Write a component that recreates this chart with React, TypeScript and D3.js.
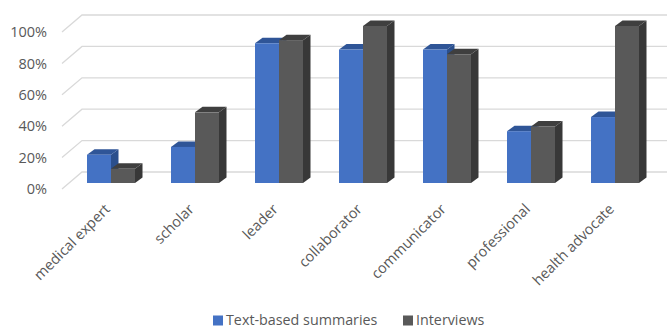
import React from "react";
import * as d3 from "d3";

const categories = ["medical expert", "scholar", "leader", "collaborator", "communicator", "professional", "health advocate"];
const seriesNames = ["Text-based summaries", "Interviews"];
const textBased = [0.18, 0.23, 0.89, 0.85, 0.85, 0.33, 0.42];
const interviews = [0.09, 0.45, 0.91, 1.0, 0.82, 0.36, 1.0];
const yTicks = [0, 0.2, 0.4, 0.6, 0.8, 1.0];

const W = 667;
const H = 329;
const FONT = "'Open Sans', sans-serif";
const colors = [
  { front: "#4472C4", top: "#2F5597", side: "#2B4F8C" },
  { front: "#595959", top: "#3F3F3F", side: "#383838" },
];

export default function App() {
  // front plane
  const x = d3.scaleBand<string>().domain(categories).range([62, 650]).paddingInner(0).paddingOuter(0);
  const yFront = d3.scaleLinear().domain([0, 1]).range([189, 32]);
  const wall = { dx: 20, dy: -17 };
  const barPlane = { dx: 7, dy: -6 };
  const barDepth = { dx: 7.5, dy: -5.5 };
  const inner = d3.scaleBand<number>().domain([0, 1]).range([0, x.bandwidth()]).paddingInner(0).paddingOuter(0.75);
  const series = [textBased, interviews];
  const fmt = d3.format(".0%");

  const bars: React.ReactNode[] = [];
  categories.forEach((c, i) => {
    series.forEach((s, k) => {
      const v = s[i];
      const x0 = (x(c) as number) + (inner(k) as number) + barPlane.dx;
      const w = inner.bandwidth();
      const yb = yFront(0) + barPlane.dy;
      const yt = yFront(v) + barPlane.dy;
      const col = colors[k];
      const ddx = barDepth.dx;
      const ddy = barDepth.dy;
      bars.push(
        <g key={`${c}-${k}`}>
          <polygon
            points={`${x0 + w},${yt} ${x0 + w + ddx},${yt + ddy} ${x0 + w + ddx},${yb + ddy} ${x0 + w},${yb}`}
            fill={col.side}
          />
          <polygon
            points={`${x0},${yt} ${x0 + ddx},${yt + ddy} ${x0 + w + ddx},${yt + ddy} ${x0 + w},${yt}`}
            fill={col.top}
          />
          <rect x={x0} y={yt} width={w} height={yb - yt} fill={col.front} />
        </g>
      );
    });
  });

  return (
    <svg width={W} height={H} style={{ position: "absolute", left: 0, top: 0 }} fontFamily={FONT}>
      <rect width={W} height={H} fill="#fff" />
      {yTicks.map((t) => {
        const yf = yFront(t);
        return (
          <g key={t}>
            <polyline
              points={`${x.range()[0]},${yf} ${x.range()[0] + wall.dx},${yf + wall.dy} ${W},${yf + wall.dy}`}
              fill="none"
              stroke="#D9D9D9"
              strokeWidth={1.3}
            />
            <text x={47} y={yf} dy="0.36em" textAnchor="end" fontSize={14.5} fill="#595959">
              {fmt(t)}
            </text>
          </g>
        );
      })}
      {bars}
      {categories.map((c) => {
        const cx = (x(c) as number) + x.bandwidth() / 2 + 7;
        const cy = 210;
        return (
          <text
            key={c}
            x={cx}
            y={cy}
            textAnchor="end"
            fontSize={14.5}
            fill="#595959"
            transform={`rotate(-45 ${cx} ${cy})`}
          >
            {c}
          </text>
        );
      })}
      <g>
        {seriesNames.map((n, k) => {
          const lx = k === 0 ? 213 : 403;
          return (
            <g key={n}>
              <rect x={lx} y={315.5} width={10} height={10} fill={colors[k].front} />
              <text x={lx + 13} y={325} fontSize={14.3} fill="#595959">
                {n}
              </text>
            </g>
          );
        })}
      </g>
    </svg>
  );
}
